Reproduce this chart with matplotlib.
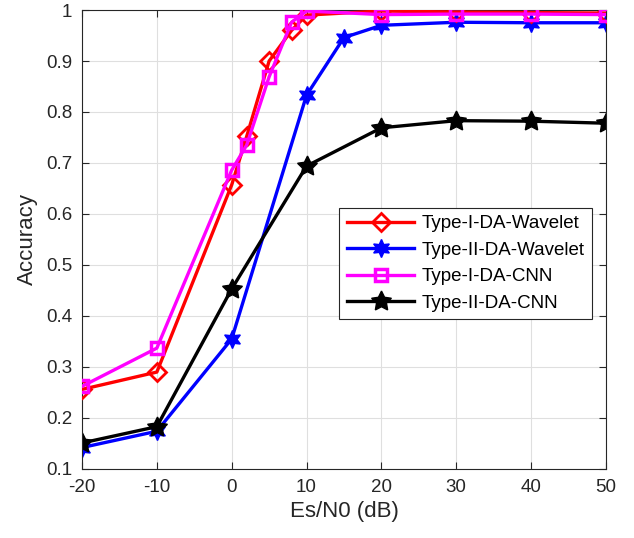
import matplotlib
matplotlib.use("Agg")
import matplotlib.pyplot as plt

plt.rcParams['font.family'] = ['Liberation Sans', 'DejaVu Sans']
plt.rcParams['axes.unicode_minus'] = False

# Es/N0 values (dB) for each curve
snr_fine = [-20, -10, 0, 2, 5, 8, 10, 20, 30, 40, 50]
snr_blue = [-20, -10, 0, 10, 15, 20, 30, 40, 50]
snr_black = [-20, -10, 0, 10, 20, 30, 40, 50]

acc_type1_wavelet = [0.256, 0.290, 0.657, 0.752, 0.900, 0.960, 0.990, 0.998, 0.996, 0.995, 0.994]
acc_type1_cnn = [0.262, 0.337, 0.686, 0.735, 0.869, 0.976, 0.998, 0.991, 0.992, 0.992, 0.991]
acc_type2_wavelet = [0.142, 0.174, 0.355, 0.833, 0.946, 0.970, 0.976, 0.975, 0.975]
acc_type2_cnn = [0.151, 0.183, 0.453, 0.694, 0.769, 0.783, 0.782, 0.778]

xticks = [-20, -10, 0, 10, 20, 30, 40, 50]
yticks = [0.1, 0.2, 0.3, 0.4, 0.5, 0.6, 0.7, 0.8, 0.9, 1.0]
ytick_labels = ['0.1', '0.2', '0.3', '0.4', '0.5', '0.6', '0.7', '0.8', '0.9', '1']

fig = plt.figure(figsize=(6.34, 5.38), dpi=100)
ax = fig.add_axes([0.1293, 0.1283, 0.8265, 0.8531])

lw = 2.4
ax.plot(snr_fine, acc_type1_wavelet, color='red', lw=lw, marker='D', ms=9,
        mfc='none', mew=2, label='Type-I-DA-Wavelet', zorder=3)
ax.plot(snr_blue, acc_type2_wavelet, color='blue', lw=lw, marker=(6, 1, 0), ms=13,
        mfc='blue', mec='blue', label='Type-II-DA-Wavelet', zorder=2)
ax.plot(snr_fine, acc_type1_cnn, color='magenta', lw=lw, marker='s', ms=9,
        mfc='none', mew=2.5, label='Type-I-DA-CNN', zorder=4)
ax.plot(snr_black, acc_type2_cnn, color='black', lw=lw, marker=(5, 1, 0), ms=15,
        mfc='black', mec='black', label='Type-II-DA-CNN', zorder=2)

ax.set_xlim(-20, 50)
ax.set_ylim(0.1, 1.0)
ax.set_xticks(xticks)
ax.set_yticks(yticks)
ax.set_yticklabels(ytick_labels)
ax.tick_params(direction='in', labelsize=13.5, length=5, width=0.8, colors='#262626',
               top=True, right=True, pad=7)
ax.grid(True, color='#dfdfdf', lw=0.8)
ax.set_axisbelow(True)
for s in ax.spines.values():
    s.set_color('#262626')
    s.set_linewidth(0.8)

ax.set_xlabel('Es/N0 (dB)', fontsize=16, color='#262626', labelpad=4)
ax.set_ylabel('Accuracy', fontsize=16, color='#262626', labelpad=6)

leg = ax.legend(loc='upper left', bbox_to_anchor=(0.491, 0.569), fontsize=13.5,
                frameon=True, fancybox=False, edgecolor='#262626', framealpha=1,
                borderpad=0.4, labelspacing=0.5, handlelength=3.6, handletextpad=0.4,
                borderaxespad=0)
leg.get_frame().set_linewidth(0.8)

fig.savefig('out.png', dpi=100)
